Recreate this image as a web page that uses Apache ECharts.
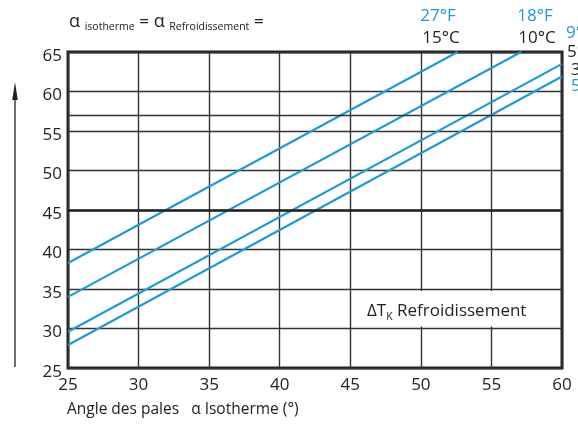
<!DOCTYPE html>
<html><head><meta charset="utf-8">
<script src="https://cdn.jsdelivr.net/npm/echarts@6/dist/echarts.min.js"></script>
<style>html,body{margin:0;padding:0;background:#fff}#c{width:578px;height:428px}</style>
</head><body><div id="c"></div>
<script>
// Axis ranges / ticks
const xTicks = [25, 30, 35, 40, 45, 50, 55, 60];
const yTicks = [25, 30, 35, 40, 45, 50, 55, 60, 65];
// Extra horizontal reference lines
const extraLineY = 57;
const boldLineY = 45;
// Cooling curves (alpha isotherme -> alpha refroidissement)
const line15C = [[25, 38.3], [52.6, 65]];
const line10C = [[25, 34.0], [57.1, 65]];
const line5C  = [[25, 29.6], [60, 63.5]];
const line3C  = [[25, 27.9], [60, 61.9]];
// Labels
const topLabelsF = ['27°F', '18°F'];
const topLabelsC = ['15°C', '10°C'];
const rightLabels = ['9°F', '5°C', '3°C', '5°F'];

const FONT = '"Open Sans", "Noto Sans", sans-serif';
const BLUE = '#1f9ad6';
const DARK = '#222';

const chart = echarts.init(document.getElementById('c'), null, {renderer: 'canvas'});

function curve(name, data, extra) {
  return Object.assign({
    name: name, type: 'line', data: data, symbol: 'none', silent: true,
    lineStyle: {color: BLUE, width: 2.2}, itemStyle: {color: BLUE}, clip: true, z: 3
  }, extra || {});
}
function txt(t, x, y, color, align) {
  return {type: 'text', silent: true, style: {text: t, x: x, y: y, fill: color, fontSize: 17, fontFamily: FONT,
    align: align, verticalAlign: 'middle', textAlign: align, textVerticalAlign: 'middle'}};
}

const option = {
  animation: false,
  backgroundColor: '#fff',
  textStyle: {fontFamily: FONT},
  grid: {left: 68, right: 16, top: 52, bottom: 60, show: true, borderColor: DARK, borderWidth: 3, backgroundColor: 'transparent'},
  title: {
    left: 64, top: 8,
    text: '{a|α} {s|isotherme} {e|=} {a|α} {s|Refroidissement} {e|=}',
    textStyle: {
      fontFamily: FONT, fontWeight: 'normal',
      rich: {
        a: {fontSize: 18, color: DARK, fontFamily: FONT, fontWeight: 'normal', verticalAlign: 'bottom'},
        s: {fontSize: 10.5, color: DARK, fontFamily: FONT, fontWeight: 'normal', verticalAlign: 'bottom', padding: [0, 0, -2, 0]},
        e: {fontSize: 17, color: DARK, fontFamily: FONT, fontWeight: 'normal', verticalAlign: 'bottom'}
      }
    }
  },
  xAxis: {
    type: 'value', min: 25, max: 60, interval: 5,
    axisLine: {show: false}, axisTick: {show: false},
    splitLine: {show: true, lineStyle: {color: '#333', width: 1.4}},
    axisLabel: {color: DARK, fontSize: 17, fontFamily: FONT, margin: 9,
      formatter: v => xTicks.includes(v) ? String(v) : ''},
    name: 'Angle des pales   α Isotherme (°)',
    nameLocation: 'start', nameGap: 1,
    nameTextStyle: {color: DARK, fontSize: 15.5, fontFamily: FONT, align: 'left', verticalAlign: 'top', padding: [34, 0, 0, 0]}
  },
  yAxis: {
    type: 'value', min: 25, max: 65, interval: 5,
    axisLine: {show: false}, axisTick: {show: false},
    splitLine: {show: true, lineStyle: {color: '#333', width: 1.4}},
    axisLabel: {color: DARK, fontSize: 17, fontFamily: FONT, margin: 6,
      formatter: v => yTicks.includes(v) ? '{v|' + v + '}' : '',
      rich: {v: {fontSize: 17, color: DARK, fontFamily: FONT, padding: [8, 0, 0, 0]}}}
  },
  series: [
    curve('15°C', line15C, {
      markLine: {
        silent: true, symbol: 'none', label: {show: false}, animation: false,
        data: [
          {yAxis: extraLineY, lineStyle: {color: '#333', width: 1.4, type: 'solid'}},
          {yAxis: boldLineY, lineStyle: {color: '#222', width: 2.6, type: 'solid'}}
        ]
      },
      markArea: {
        silent: true,
        itemStyle: {color: '#fff'},
        label: {
          show: true, position: 'insideLeft', distance: 11,
          formatter: '{n|ΔT}{k|K}{n| Refroidissement}',
          rich: {
            n: {fontSize: 17, color: DARK, fontFamily: FONT, verticalAlign: 'bottom', padding: [4, 0, 0, 0]},
            k: {fontSize: 10.5, color: DARK, fontFamily: FONT, verticalAlign: 'bottom', padding: [0, 0, -3, 0]}
          }
        },
        data: [[{coord: [45.4, 30.25]}, {coord: [59.8, 34.75]}]]
      }
    }),
    curve('10°C', line10C),
    curve('5°C', line5C),
    curve('3°C', line3C)
  ],
  graphic: [
    {type: 'line', silent: true, shape: {x1: 15, y1: 367, x2: 15, y2: 92}, style: {stroke: DARK, lineWidth: 1.3}},
    {type: 'polygon', silent: true, shape: {points: [[15, 82], [12.2, 100], [17.8, 100]]}, style: {fill: DARK}},
    txt(topLabelsF[0], 438, 16, BLUE, 'center'),
    txt(topLabelsC[0], 441, 38, DARK, 'center'),
    txt(topLabelsF[1], 535, 16, BLUE, 'center'),
    txt(topLabelsC[1], 537, 38, DARK, 'center'),
    txt(rightLabels[0], 566, 33, BLUE, 'left'),
    txt(rightLabels[1], 567, 52, DARK, 'left'),
    txt(rightLabels[2], 571, 70, DARK, 'left'),
    txt(rightLabels[3], 571, 86, BLUE, 'left')
  ]
};
chart.setOption(option);
</script>
</body></html>
